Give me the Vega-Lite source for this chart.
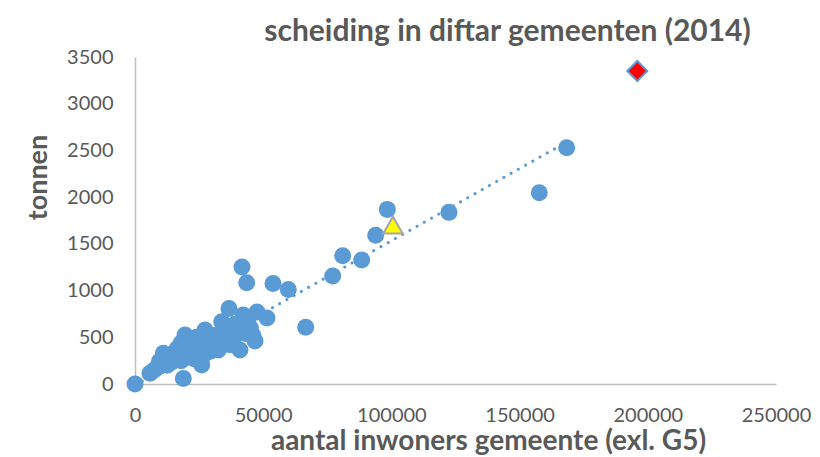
{
  "$schema": "https://vega.github.io/schema/vega-lite/v6.json",
  "width": 641,
  "height": 327,
  "autosize": {"type": "none"},
  "padding": {"left": 135, "top": 57, "right": 44, "bottom": 73},
  "background": "white",
  "title": {
    "text": "scheiding in diftar gemeenten (2014)",
    "font": "Lato",
    "fontSize": 30,
    "fontWeight": "bold",
    "color": "#595959",
    "anchor": "middle",
    "dx": 52,
    "offset": 0
  },
  "config": {"view": {"stroke": null}, "font": "Lato"},
  "datasets": {
    "gemeenten": [
      {"inwoners": 0, "tonnen": 0},
      {"inwoners": 5850, "tonnen": 115},
      {"inwoners": 7500, "tonnen": 150},
      {"inwoners": 9000, "tonnen": 180},
      {"inwoners": 9500, "tonnen": 240},
      {"inwoners": 11040, "tonnen": 328},
      {"inwoners": 12000, "tonnen": 260},
      {"inwoners": 12500, "tonnen": 200},
      {"inwoners": 13500, "tonnen": 300},
      {"inwoners": 14000, "tonnen": 230},
      {"inwoners": 15000, "tonnen": 330},
      {"inwoners": 15500, "tonnen": 270},
      {"inwoners": 16500, "tonnen": 380},
      {"inwoners": 17000, "tonnen": 300},
      {"inwoners": 18000, "tonnen": 250},
      {"inwoners": 18000, "tonnen": 440},
      {"inwoners": 18840, "tonnen": 59},
      {"inwoners": 19000, "tonnen": 350},
      {"inwoners": 19500, "tonnen": 524},
      {"inwoners": 20000, "tonnen": 420},
      {"inwoners": 20500, "tonnen": 290},
      {"inwoners": 21000, "tonnen": 380},
      {"inwoners": 22000, "tonnen": 460},
      {"inwoners": 22500, "tonnen": 330},
      {"inwoners": 23000, "tonnen": 270},
      {"inwoners": 23500, "tonnen": 410},
      {"inwoners": 24000, "tonnen": 500},
      {"inwoners": 25000, "tonnen": 350},
      {"inwoners": 25500, "tonnen": 450},
      {"inwoners": 26010, "tonnen": 203},
      {"inwoners": 26500, "tonnen": 300},
      {"inwoners": 27300, "tonnen": 578},
      {"inwoners": 27960, "tonnen": 542},
      {"inwoners": 28500, "tonnen": 420},
      {"inwoners": 29000, "tonnen": 480},
      {"inwoners": 29500, "tonnen": 350},
      {"inwoners": 30500, "tonnen": 400},
      {"inwoners": 31000, "tonnen": 520},
      {"inwoners": 31500, "tonnen": 460},
      {"inwoners": 32490, "tonnen": 364},
      {"inwoners": 33000, "tonnen": 430},
      {"inwoners": 33810, "tonnen": 667},
      {"inwoners": 34000, "tonnen": 540},
      {"inwoners": 35000, "tonnen": 480},
      {"inwoners": 35500, "tonnen": 600},
      {"inwoners": 36660, "tonnen": 808},
      {"inwoners": 37000, "tonnen": 420},
      {"inwoners": 37500, "tonnen": 550},
      {"inwoners": 38500, "tonnen": 500},
      {"inwoners": 39000, "tonnen": 640},
      {"inwoners": 40000, "tonnen": 560},
      {"inwoners": 40950, "tonnen": 364},
      {"inwoners": 41500, "tonnen": 620},
      {"inwoners": 41730, "tonnen": 1252},
      {"inwoners": 42240, "tonnen": 738},
      {"inwoners": 43000, "tonnen": 540},
      {"inwoners": 43560, "tonnen": 1084},
      {"inwoners": 44000, "tonnen": 660},
      {"inwoners": 45000, "tonnen": 600},
      {"inwoners": 46000, "tonnen": 520},
      {"inwoners": 46800, "tonnen": 460},
      {"inwoners": 47580, "tonnen": 770},
      {"inwoners": 51480, "tonnen": 706},
      {"inwoners": 53820, "tonnen": 1075},
      {"inwoners": 59790, "tonnen": 1012},
      {"inwoners": 66570, "tonnen": 608},
      {"inwoners": 77100, "tonnen": 1156},
      {"inwoners": 81000, "tonnen": 1373},
      {"inwoners": 88410, "tonnen": 1327},
      {"inwoners": 93870, "tonnen": 1591},
      {"inwoners": 98400, "tonnen": 1869},
      {"inwoners": 122460, "tonnen": 1837},
      {"inwoners": 157680, "tonnen": 2047},
      {"inwoners": 168360, "tonnen": 2528}
    ],
    "trend": [
      {"inwoners": 0, "tonnen": -12},
      {"inwoners": 168360, "tonnen": 2590}
    ],
    "geel": [
      {"inwoners": 100600, "tonnen": 1700}
    ],
    "rood": [
      {"inwoners": 195900, "tonnen": 3350}
    ]
  },
  "encoding": {
    "x": {
      "field": "inwoners",
      "type": "quantitative",
      "scale": {"domain": [0, 250000], "nice": false, "zero": true},
      "axis": {
        "title": "aantal inwoners gemeente (exl. G5)",
        "values": [0, 50000, 100000, 150000, 200000, 250000],
        "format": "d",
        "grid": false,
        "ticks": false,
        "domainColor": "#BFBFBF",
        "domainWidth": 1.5,
        "labelFont": "Lato",
        "labelFontSize": 20,
        "labelColor": "#595959",
        "labelPadding": 21,
        "labelFlush": false,
        "labelOverlap": false,
        "labelBound": false,
        "titleFont": "Lato",
        "titleFontSize": 28,
        "titleFontWeight": "bold",
        "titleColor": "#595959",
        "titleX": 353,
        "titleY": 65,
        "titleBaseline": "alphabetic",
        "titleAlign": "center"
      }
    },
    "y": {
      "field": "tonnen",
      "type": "quantitative",
      "scale": {"domain": [0, 3500], "nice": false},
      "axis": {
        "title": "tonnen",
        "values": [0, 500, 1000, 1500, 2000, 2500, 3000, 3500],
        "format": "d",
        "grid": false,
        "ticks": false,
        "domainColor": "#BFBFBF",
        "domainWidth": 1.5,
        "labelFont": "Lato",
        "labelFontSize": 20,
        "labelColor": "#595959",
        "labelPadding": 22,
        "labelFlush": false,
        "labelOverlap": false,
        "labelBound": false,
        "titleFont": "Lato",
        "titleFontSize": 27,
        "titleFontWeight": "bold",
        "titleColor": "#595959",
        "titleX": -97,
        "titleY": 120,
        "titleAngle": -90,
        "titleBaseline": "middle",
        "titleAlign": "center"
      }
    }
  },
  "layer": [
    {
      "data": {"name": "gemeenten"},
      "mark": {"type": "circle", "size": 289, "color": "#5B9BD5", "opacity": 1}
    },
    {
      "data": {"name": "trend"},
      "mark": {"type": "line", "color": "#5B9BD5", "strokeWidth": 3, "strokeDash": [0.1, 8.2], "strokeCap": "round", "clip": true}
    },
    {
      "data": {"name": "geel"},
      "mark": {"type": "point", "shape": "triangle-up", "size": 380, "filled": true, "fill": "#FFFF00", "stroke": "#A5A5A5", "strokeWidth": 2, "opacity": 1}
    },
    {
      "data": {"name": "rood"},
      "mark": {"type": "point", "shape": "diamond", "size": 400, "filled": true, "fill": "#FF0000", "stroke": "#5B9BD5", "strokeWidth": 2, "opacity": 1}
    }
  ]
}
